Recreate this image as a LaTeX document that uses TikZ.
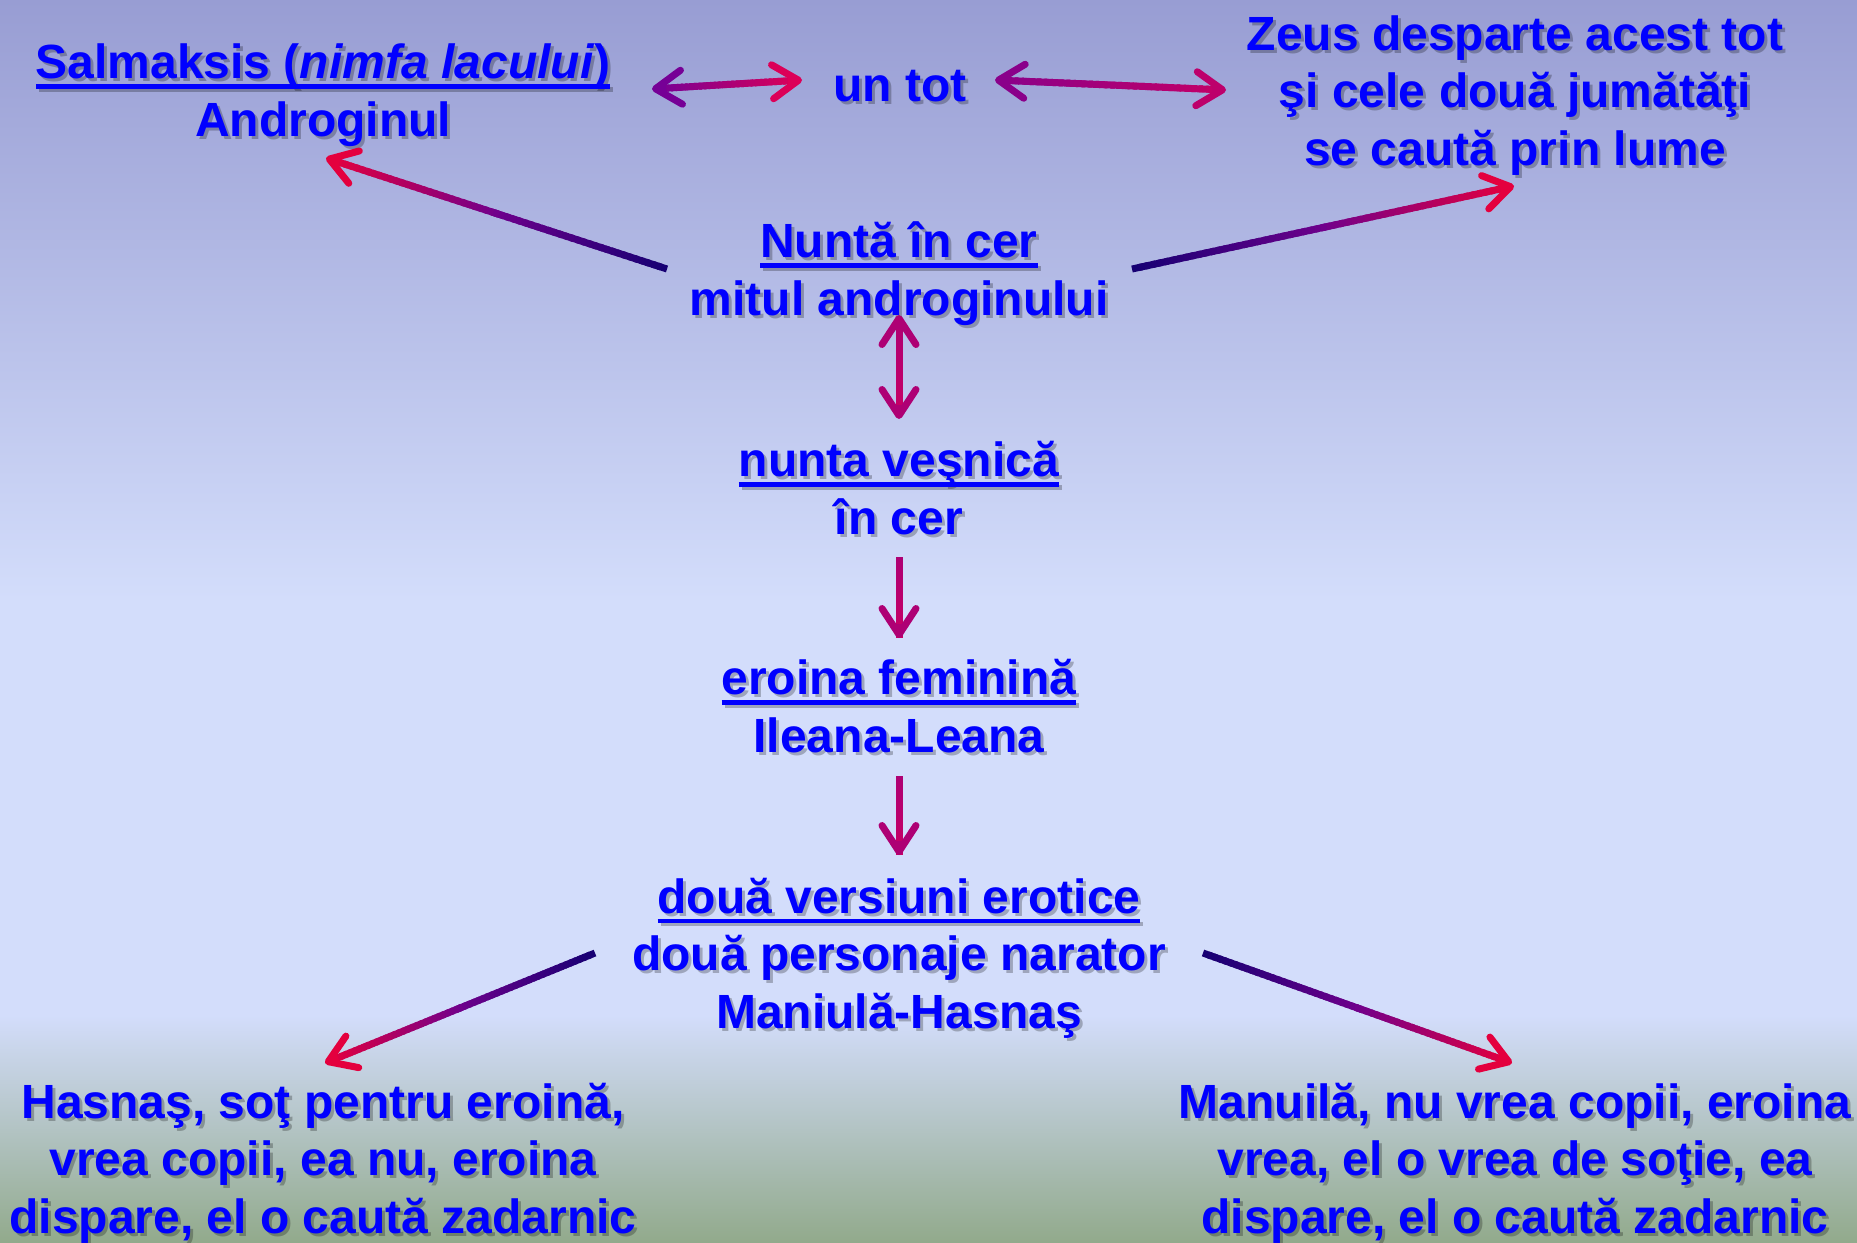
\documentclass[tikz,border=0pt]{standalone}
\usepackage{fontspec}
\setmainfont{Liberation Sans}
\usetikzlibrary{arrows.meta,calc}
\definecolor{bgtop}{RGB}{152,157,211}
\definecolor{bgmid}{RGB}{211,221,251}
\definecolor{bgbot}{RGB}{146,170,140}
\definecolor{arrA}{RGB}{22,0,115}
\definecolor{arrM}{RGB}{112,0,140}
\definecolor{arrB}{RGB}{228,0,62}
\definecolor{magL}{RGB}{118,0,150}
\definecolor{magR}{RGB}{220,0,88}
\definecolor{txtblue}{RGB}{0,0,255}
\newsavebox\myulbox
\newcommand\myul[1]{\sbox\myulbox{#1}\rlap{\rule[-10pt]{\wd\myulbox}{4.5pt}}\usebox\myulbox}
\tikzset{
  lbl/.style={text=txtblue, font=\fontsize{48}{57.5}\selectfont\bfseries, align=center, inner sep=0pt, anchor=base},
  shd/.style={lbl, text=black, opacity=0.25},
}
% anchor=base of a multi-line label is the baseline of its last line
\newcommand\lbl[3]{%
  \node[shd] at ([xshift=3pt,yshift=-3pt]#2) {#3};
  \node[lbl] (#1) at (#2) {#3};}
\newcommand\gseg[4]{%
  \foreach \k in {0,...,29}{%
    \pgfmathsetmacro\ps{\k/30}%
    \pgfmathsetmacro\pe{min(1,(\k+1.6)/30)}%
    \pgfmathtruncatemacro\pc{100*(\k+0.5)/30}%
    \draw[line width=7pt,color=#4!\pc!#3] ($(#1)!\ps!(#2)$) -- ($(#1)!\pe!(#2)$);}}
\newcommand\ghead[3]{%
  \draw[line width=7pt,color=#3,-{Straight Barb[round,length=26pt,width=34pt]}] ($(#2)!14pt!(#1)$) -- (#2);}
\newcommand\garrow[2]{%
  \coordinate (gE) at ($(#2)!5pt!(#1)$);
  \coordinate (gM) at ($(#1)!0.5!(gE)$);
  \coordinate (gM2) at ($(#1)!0.52!(gE)$);
  \gseg{#1}{gM2}{arrA}{arrM}
  \gseg{gM}{gE}{arrM}{arrB}
  \ghead{#1}{#2}{arrB}}
\newcommand\gdarrow[4]{%
  \coordinate (gS) at ($(#1)!5pt!(#2)$);
  \coordinate (gE) at ($(#2)!5pt!(#1)$);
  \gseg{gS}{gE}{#3}{#4}
  \ghead{#2}{#1}{#3}
  \ghead{#1}{#2}{#4}}
\begin{document}
\begin{tikzpicture}[x=1pt,y=-1pt]
\useasboundingbox (0,0) rectangle (1857,1242);
\shade[top color=bgtop, bottom color=bgmid] (0,0) rectangle (1857,600);
\fill[bgmid] (0,598) rectangle (1857,1018);
\shade[top color=bgmid, bottom color=bgbot] (0,1015) rectangle (1857,1242);

\lbl{salm}{323,136}{\myul{Salmaksis (\textit{nimfa lacului})}\\Androginul}
\lbl{untot}{900,101}{un tot}
\lbl{zeus}{1515,165}{Zeus desparte acest tot\\şi cele două jumătăţi\\se caută prin lume}
\lbl{nunta}{899,315}{\myul{Nuntă în cer}\\mitul androginului}
\lbl{vesnica}{899,534}{\myul{nunta veşnică}\\în cer}
\lbl{eroina}{899,752}{\myul{eroina feminină}\\Ileana-Leana}
\lbl{versiuni}{899,1028}{\myul{două versiuni erotice}\\două personaje narator\\Maniulă-Hasnaş}
\lbl{hasnas}{323,1233}{Hasnaş, soţ pentru eroină,\\vrea copii, ea nu, eroina\\dispare, el o caută zadarnic}
\lbl{manuila}{1515,1233}{Manuilă, nu vrea copii, eroina\\vrea, el o vrea de soţie, ea\\dispare, el o caută zadarnic}

% connector end points
\coordinate (a1s) at (652,89);
\coordinate (a1e) at (802,80);
\coordinate (a2s) at (995,80);
\coordinate (a2e) at (1226,90);
\coordinate (n1s) at (667,269);
\coordinate (n1e) at (326,158);
\coordinate (n2s) at (1132,269);
\coordinate (n2e) at (1514,186);
\coordinate (v1s) at (899,315);
\coordinate (v1e) at (899,419);
\coordinate (v2s) at (899,557);
\coordinate (v2e) at (899,638);
\coordinate (v3s) at (899,776);
\coordinate (v3e) at (899,855);
\coordinate (d1s) at (595,953);
\coordinate (d1e) at (325,1063);
\coordinate (d2s) at (1203,953);
\coordinate (d2e) at (1512,1063);

\gdarrow{a1s}{a1e}{magL}{magR}
\gdarrow{a2s}{a2e}{magL!80!magR}{magL!30!magR}
\garrow{n1s}{n1e}
\garrow{n2s}{n2e}
\gdarrow{v1s}{v1e}{magL!45!magR}{magL!45!magR}
\gseg{v2s}{v2e}{magL!45!magR}{magL!45!magR}
\ghead{v2s}{v2e}{magL!45!magR}
\gseg{v3s}{v3e}{magL!45!magR}{magL!45!magR}
\ghead{v3s}{v3e}{magL!45!magR}
\garrow{d1s}{d1e}
\garrow{d2s}{d2e}
\end{tikzpicture}
\end{document}
